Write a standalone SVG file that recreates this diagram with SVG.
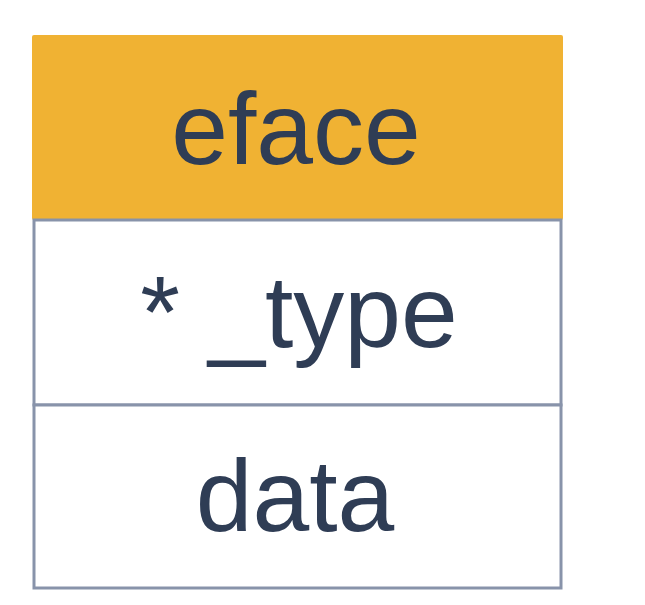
<svg xmlns="http://www.w3.org/2000/svg" width="645" height="605" viewBox="0 0 645 605">
  <style>
    .label { font-family: "Liberation Sans", Arial, sans-serif; font-size: 102px; fill: #2f3d55; text-anchor: middle; }
    .cell { fill: #ffffff; stroke: #8893aa; stroke-width: 3; }
  </style>
  <rect width="645" height="605" fill="#ffffff"/>
  <g id="eface">
    <rect x="32" y="35" width="531" height="185" fill="#f0b233" rx="2"/>
    <text class="label" x="296" y="164">eface</text>
  </g>
  <g id="type-field">
    <rect class="cell" x="34" y="220" width="527" height="185"/>
    <text class="label" x="299" y="347">* _type</text>
  </g>
  <g id="data-field">
    <rect class="cell" x="34" y="405" width="527" height="183"/>
    <text class="label" x="295" y="531">data</text>
  </g>
  <g id="connectors"/>
</svg>
